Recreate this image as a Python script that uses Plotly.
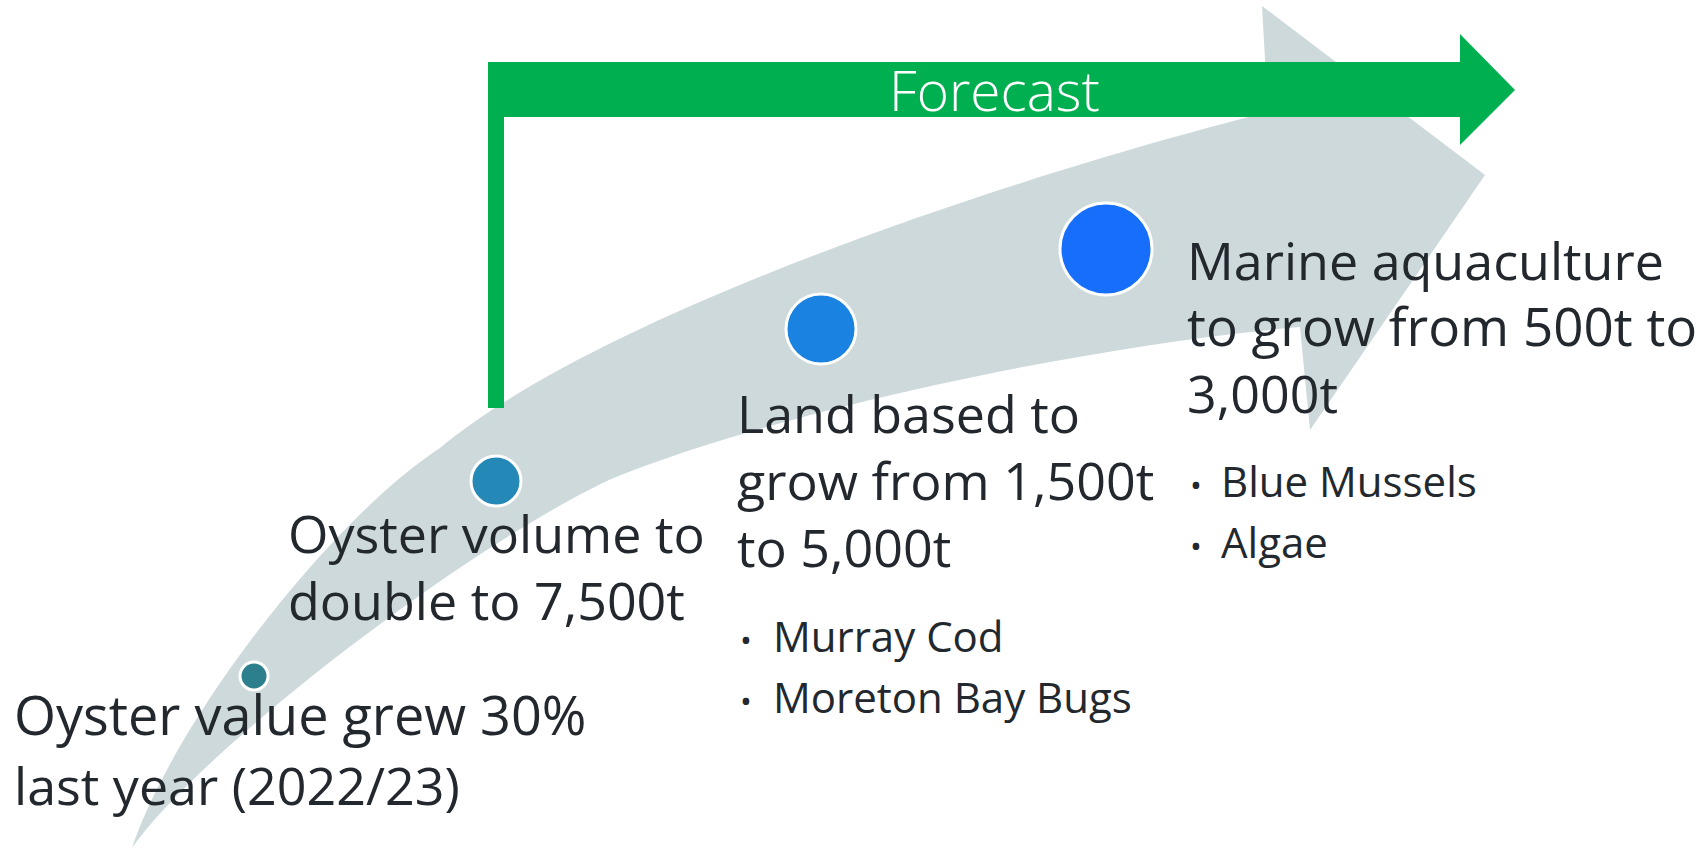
import plotly.graph_objects as go

# ---- figures quoted in the roadmap ----
oyster_value_growth_pct = 30
oyster_value_year = "2022/23"
oyster_volume_target_t = 7500
land_based_from_t = 1500
land_based_to_t = 5000
marine_from_t = 500
marine_to_t = 3000
land_based_species = ["Murray Cod", "Moreton Bay Bugs"]
marine_species = ["Blue Mussels", "Algae"]


def tonnes(v):
    return f"{v:,}t"


# ---- milestone dots along the growth arrow (canvas pixels) ----
dot_x = [254, 496, 821, 1106]
dot_y = [676, 481, 329, 249]
dot_size = [28, 50, 70, 92]
dot_color = ["#2E7F8E", "#2489B7", "#1A82E0", "#166EFA"]

W, H = 1706, 850
TEXT = "#22282D"
FONT = "Open Sans"

fig = go.Figure()

fig.add_trace(go.Scatter(
    x=dot_x, y=dot_y, mode="markers",
    marker=dict(size=dot_size, color=dot_color, opacity=1,
                line=dict(color="white", width=3)),
    hoverinfo="skip", showlegend=False,
))

# curved grey growth arrow
grey_arrow = (
    "M 132,848 C 175,720 330,520 440,448 "
    "C 600,315 1000,180 1268,112 "
    "L 1262,6 L 1485,175 L 1310,430 L 1300,327 "
    "C 1070,347 759,417 609,480 "
    "C 470,545 202,748 132,848 Z"
)
fig.add_shape(type="path", path=grey_arrow, xref="x", yref="y",
              fillcolor="#CDD9DB", line=dict(width=0), layer="below")

# green forecast bracket arrow
green_arrow = (
    "M 488,408 L 488,62 L 1460,62 L 1460,34 L 1515,90 "
    "L 1460,145 L 1460,117 L 504,117 L 504,408 Z"
)
fig.add_shape(type="path", path=green_arrow, xref="x", yref="y",
              fillcolor="#00B050", line=dict(width=0), layer="below")


def line_text(x, baseline, text, size, color=TEXT, weight=400, anchor="left"):
    # place a single line so that its baseline lands at `baseline`
    fig.add_annotation(
        x=x, y=baseline - 0.39 * size, xref="x", yref="y",
        text=text, showarrow=False, xanchor=anchor, yanchor="middle",
        font=dict(family=FONT, size=size, color=color, weight=weight),
    )


def bullet_list(x_bullet, x_text, baselines, items, size):
    for b, item in zip(baselines, items):
        line_text(x_bullet, b, "•", size * 0.75)
        line_text(x_text, b, item, size)


line_text(994, 111, "Forecast", 55, color="white", weight=300, anchor="center")

# stage 1
line_text(12, 735, f"Oyster value grew {oyster_value_growth_pct}%", 54)
line_text(12, 805, f"last year ({oyster_value_year})", 52)

# stage 2
line_text(286, 553, "Oyster volume to", 52)
line_text(286, 620, f"double to {tonnes(oyster_volume_target_t)}", 52)

# stage 3
line_text(735, 433, "Land based to", 52)
line_text(735, 500, f"grow from {tonnes(land_based_from_t)}", 52)
line_text(735, 567, f"to {tonnes(land_based_to_t)}", 52)
bullet_list(738, 771, [652, 713], land_based_species, 42)

# stage 4
line_text(1185, 280, "Marine aquaculture", 52)
line_text(1185, 346, f"to grow from {tonnes(marine_from_t)} to", 53)
line_text(1185, 413, tonnes(marine_to_t), 52)
bullet_list(1188, 1219, [497, 558], marine_species, 42)

fig.update_xaxes(range=[0, W], visible=False, fixedrange=True)
fig.update_yaxes(range=[H, 0], visible=False, fixedrange=True)
fig.update_layout(
    width=W, height=H,
    margin=dict(l=0, r=0, t=0, b=0),
    paper_bgcolor="white", plot_bgcolor="white",
    showlegend=False,
)

fig.write_html("out.html")
